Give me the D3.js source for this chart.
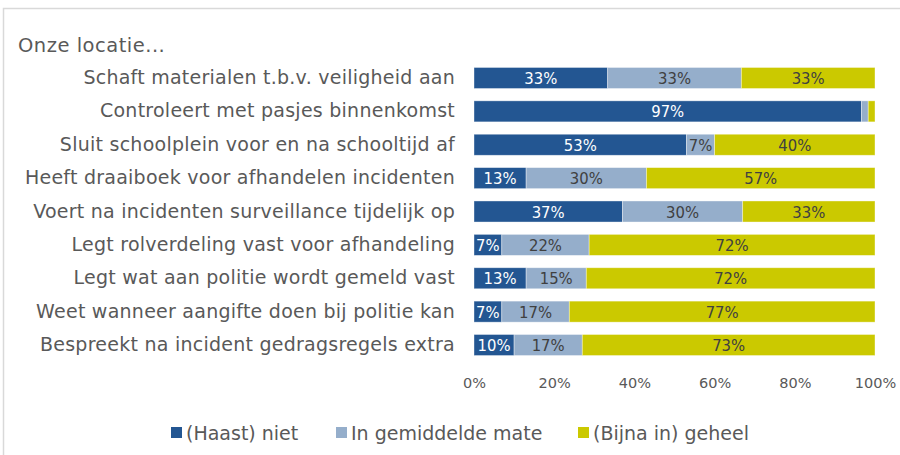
<!DOCTYPE html>
<html>
<head>
<meta charset="utf-8">
<script src="https://cdn.jsdelivr.net/npm/d3@7"></script>
<style>
  html, body { margin: 0; padding: 0; background: #fff; }
  svg { display: block; }
  text { font-family: "DejaVu Sans", Verdana, sans-serif; }
</style>
</head>
<body>
<svg id="chart" width="900" height="455"></svg>
<script>
// Statements about the school location, top to bottom
const categories = [
  "Schaft materialen t.b.v. veiligheid aan",
  "Controleert met pasjes binnenkomst",
  "Sluit schoolplein voor en na schooltijd af",
  "Heeft draaiboek voor afhandelen incidenten",
  "Voert na incidenten surveillance tijdelijk op",
  "Legt rolverdeling vast voor afhandeling",
  "Legt wat aan politie wordt gemeld vast",
  "Weet wanneer aangifte doen bij politie kan",
  "Bespreekt na incident gedragsregels extra"
];

// Percentages per answer
const haastNiet     = [33, 97, 53, 13, 37,  7, 13,  7, 10];
const gemiddeld     = [33, 1.7, 7, 30, 30, 22, 15, 17, 17];
const bijnaGeheel   = [33, 1.7, 40, 57, 33, 72, 72, 77, 73];

const seriesNames = ["(Haast) niet", "In gemiddelde mate", "(Bijna in) geheel"];
const seriesKeys  = ["niet", "mate", "geheel"];
const colors      = ["#235692", "#95aecb", "#cbc900"];
const labelColors = ["#ffffff", "#404040", "#404040"];

const xTicks = [0, 0.2, 0.4, 0.6, 0.8, 1.0];

const rows = categories.map((c, i) => ({
  cat: c, niet: haastNiet[i], mate: gemiddeld[i], geheel: bijnaGeheel[i]
}));

const svg = d3.select("#chart");
const textGray = "#595959";

// Frame around the chart area
svg.append("rect")
  .attr("x", 3.5).attr("y", 8.5)
  .attr("width", 920).attr("height", 470)
  .attr("fill", "none")
  .attr("stroke", "#d9d9d9")
  .attr("stroke-width", 1.5);

svg.append("text")
  .attr("x", 18).attr("y", 52)
  .attr("font-size", 19.5)
  .attr("letter-spacing", 0.5)
  .attr("fill", textGray)
  .text("Onze locatie...");

const x = d3.scaleLinear().domain([0, 1]).range([474, 875]);
const y = d3.scaleBand().domain(categories).range([61.3, 361.7]).paddingInner(0.37).paddingOuter(0.185);

// 100% stacked: each row normalised to its own total
const stack = d3.stack().keys(seriesKeys).offset(d3.stackOffsetExpand);
const layers = stack(rows);

const g = svg.append("g");
layers.forEach((layer, si) => {
  const lg = g.append("g");
  lg.selectAll("rect")
    .data(layer)
    .join("rect")
    .attr("x", d => x(d[0]))
    .attr("y", d => y(d.data.cat))
    .attr("width", d => x(d[1]) - x(d[0]))
    .attr("height", y.bandwidth())
    .attr("fill", colors[si])
    .attr("stroke", "#ffffff")
    .attr("stroke-opacity", 0.5)
    .attr("stroke-width", 0.75);

  lg.selectAll("text")
    .data(layer.filter(d => d.data[layer.key] >= 5))
    .join("text")
    .attr("x", d => (x(d[0]) + x(d[1])) / 2)
    .attr("y", d => y(d.data.cat) + y.bandwidth() / 2)
    .attr("dy", "0.37em")
    .attr("text-anchor", "middle")
    .attr("font-size", 16.5)
    .attr("font-stretch", "condensed")
    .attr("fill", labelColors[si])
    .text(d => d3.format(".0f")(d.data[layer.key]) + "%");
});

// Category labels
const yAxis = d3.axisLeft(y).tickSize(0).tickPadding(19);
const ya = svg.append("g").attr("transform", `translate(${x(0)},0)`).call(yAxis);
ya.select(".domain").remove();
ya.selectAll("text")
  .attr("font-size", 19)
  .attr("letter-spacing", 0.25)
  .attr("fill", textGray)
  .attr("font-family", "DejaVu Sans, Verdana, sans-serif");

// Percentage axis
const xAxis = d3.axisBottom(x).tickValues(xTicks).tickSize(0).tickPadding(0).tickFormat(d3.format(".0%"));
const xa = svg.append("g").attr("transform", "translate(0,377.5)").call(xAxis);
xa.select(".domain").remove();
xa.selectAll("text")
  .attr("font-size", 14.5)
  .attr("fill", textGray)
  .attr("font-family", "DejaVu Sans, Verdana, sans-serif");

// Legend
const legendX = [171, 336, 578];
const legend = svg.append("g");
seriesNames.forEach((name, i) => {
  legend.append("rect")
    .attr("x", legendX[i]).attr("y", 427)
    .attr("width", 11).attr("height", 11)
    .attr("fill", colors[i]);
  legend.append("text")
    .attr("x", legendX[i] + 15).attr("y", 433)
    .attr("dy", "0.36em")
    .attr("font-size", 19)
    .attr("fill", textGray)
    .text(name);
});
</script>
</body>
</html>
